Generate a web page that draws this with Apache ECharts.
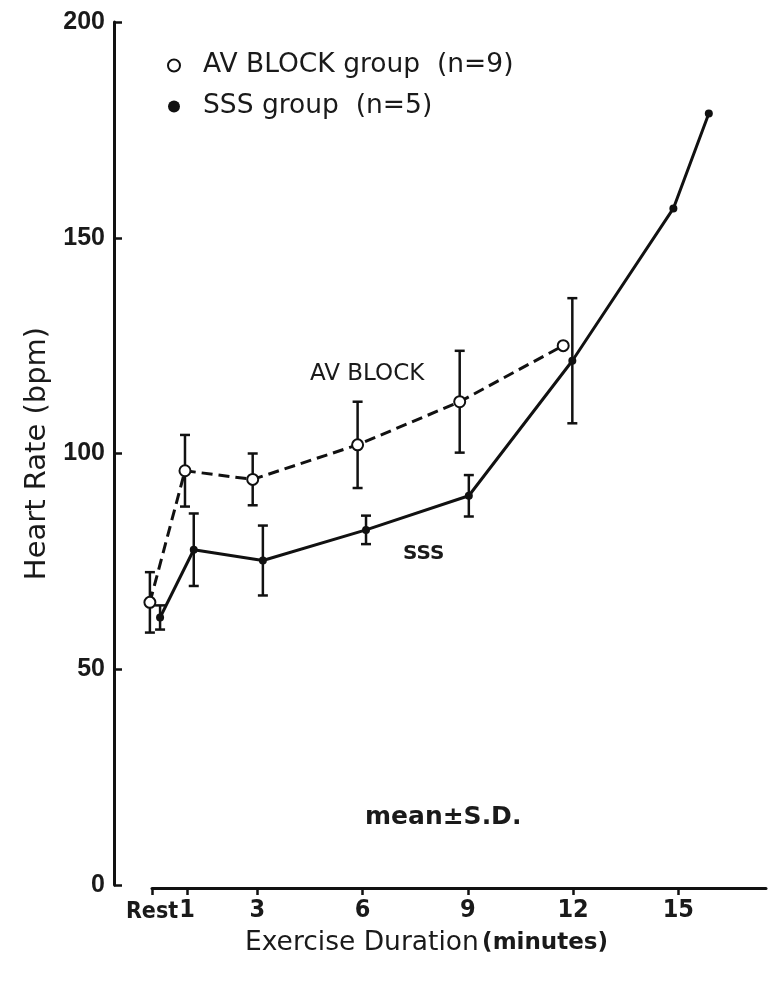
<!DOCTYPE html>
<html>
<head>
<meta charset="utf-8">
<script src="https://cdn.jsdelivr.net/npm/echarts@6/dist/echarts.min.js"></script>
<style>
  html, body { margin: 0; padding: 0; background: #fff; }
  #chart1 { width: 776px; height: 988px; }
</style>
</head>
<body>
<div id="chart1"></div>
<script>
// AV BLOCK group (open circles, dashed line)
var avMinute = [-0.06, 0.94, 2.87, 5.86, 8.77, 11.72];
var avMean = [65.5, 96, 94, 102, 112, 125];
var avSD = [7, 8.3, 6, 10, 11.8, null];

// SSS group (filled dots, solid line)
var sssMinute = [0.23, 1.19, 3.16, 6.1, 9.03, 11.98, 14.86, 15.87];
var sssMean = [62, 77.7, 75.2, 82.3, 90.2, 121.5, 156.8, 178.8];
var sssSD = [2.8, 8.4, 8.1, 3.3, 4.8, 14.5, null, null];

// x axis ticks
var xTickValues = [0, 1, 3, 6, 9, 12, 15];
var xTickLabels = ['Rest', '1', '3', '6', '9', '12', '15'];

var avName = 'AV BLOCK group  (n=9)';
var sssName = 'SSS group  (n=5)';

function pairs(xs, ys) {
    var out = [];
    for (var i = 0; i < xs.length; i++) {
        out.push([xs[i], ys[i]]);
    }
    return out;
}

function errData(xs, ys, sds) {
    var out = [];
    for (var i = 0; i < xs.length; i++) {
        if (sds[i] != null) {
            out.push([xs[i], ys[i], sds[i]]);
        }
    }
    return out;
}

// 误差线
function renderErr(params, api) {
    var x = api.value(0);
    var m = api.value(1);
    var sd = api.value(2);
    var top = api.coord([x, m + sd]);
    var bot = api.coord([x, m - sd]);
    var cap = 5;
    var st = { stroke: '#111', lineWidth: 2.5 };
    return {
        type: 'group',
        children: [
            { type: 'line', shape: { x1: top[0], y1: top[1], x2: bot[0], y2: bot[1] }, style: st },
            { type: 'line', shape: { x1: top[0] - cap, y1: top[1], x2: top[0] + cap, y2: top[1] }, style: st },
            { type: 'line', shape: { x1: bot[0] - cap, y1: bot[1], x2: bot[0] + cap, y2: bot[1] }, style: st }
        ]
    };
}

var myChart = echarts.init(document.getElementById('chart1'));

var option = {
    backgroundColor: '#fff',
    animation: false,
    grid: {
        left: 152,
        right: 10,
        top: 22,
        bottom: 103
    },
    legend: {
        orient: 'vertical',
        left: 162,
        top: 47,
        itemGap: 14,
        itemWidth: 12,
        itemHeight: 12,
        icon: 'circle',
        data: [avName, sssName],
        textStyle: {
            fontFamily: 'DejaVu Sans',
            fontSize: 26.5,
            color: '#1a1a1a',
            padding: [0, 0, 0, 18]
        }
    },
    xAxis: {
        type: 'value',
        min: 0,
        max: 17.5,
        offset: 3,
        splitLine: { show: false },
        axisLine: { show: true, onZero: false, lineStyle: { color: '#111', width: 3 } },
        axisTick: {
            show: true,
            interval: 0,
            customValues: xTickValues,
            length: 7,
            lineStyle: { color: '#111', width: 2.5 }
        },
        axisLabel: {
            customValues: xTickValues,
            interval: 0,
            showMinLabel: true,
            hideOverlap: false,
            margin: 10,
            fontFamily: "'DejaVu Sans Condensed', 'Liberation Sans'",
            fontWeight: 'bold',
            fontSize: 25,
            color: '#1a1a1a',
            rich: {
                r: {
                    fontFamily: "'DejaVu Sans Condensed', 'Liberation Sans'",
                    fontWeight: 'bold',
                    fontSize: 23,
                    padding: [3, 0, 0, 0],
                    color: '#1a1a1a'
                }
            },
            formatter: function (v) {
                var idx = xTickValues.indexOf(v);
                if (idx == 0) {
                    return '{r|' + xTickLabels[idx] + '}';
                }
                return idx >= 0 ? xTickLabels[idx] : '';
            }
        }
    },
    yAxis: {
        type: 'value',
        min: 0,
        max: 200,
        interval: 50,
        offset: 38,
        name: 'Heart Rate (bpm)',
        nameLocation: 'middle',
        nameRotate: 90,
        nameGap: 62,
        nameTextStyle: {
            fontFamily: 'DejaVu Sans',
            fontSize: 29,
            color: '#1a1a1a'
        },
        splitLine: { show: false },
        axisLine: { show: true, onZero: false, lineStyle: { color: '#111', width: 3 } },
        axisTick: { show: true, inside: true, length: 8, lineStyle: { color: '#111', width: 2.5 } },
        axisLabel: {
            margin: 9,
            showMinLabel: true,
            fontFamily: 'Liberation Sans',
            fontWeight: 'bold',
            fontSize: 25,
            color: '#1a1a1a'
        }
    },
    graphic: [
        {
            type: 'text',
            left: 245,
            top: 930,
            style: {
                text: '{a|Exercise Duration} {b|(minutes)}',
                rich: {
                    a: { fontFamily: 'DejaVu Sans', fontSize: 26.5, fill: '#1a1a1a' },
                    b: { fontFamily: 'DejaVu Sans', fontSize: 23, fontWeight: 'bold', fill: '#1a1a1a' }
                }
            }
        },
        {
            type: 'text',
            left: 310,
            top: 363,
            style: { text: 'AV BLOCK', fontFamily: 'DejaVu Sans', fontSize: 23, fill: '#1a1a1a' }
        },
        {
            type: 'text',
            left: 403,
            top: 544,
            style: { text: 'SSS', fontFamily: 'DejaVu Sans', fontSize: 20, fontWeight: 'bold', fill: '#1a1a1a' }
        },
        {
            type: 'text',
            left: 365,
            top: 805,
            style: { text: 'mean\u00b1S.D.', fontFamily: 'DejaVu Sans', fontSize: 25, fontWeight: 'bold', fill: '#1a1a1a' }
        }
    ],
    series: [
        {
            name: 'avErr',
            type: 'custom',
            renderItem: renderErr,
            data: errData(avMinute, avMean, avSD),
            clip: false,
            z: 2
        },
        {
            name: 'sssErr',
            type: 'custom',
            renderItem: renderErr,
            data: errData(sssMinute, sssMean, sssSD),
            clip: false,
            z: 2
        },
        {
            name: avName,
            type: 'line',
            data: pairs(avMinute, avMean),
            symbol: 'circle',
            symbolSize: 11,
            clip: false,
            lineStyle: { color: '#111', width: 3, type: [11, 6] },
            itemStyle: { color: '#fff', borderColor: '#111', borderWidth: 2 },
            z: 3
        },
        {
            name: sssName,
            type: 'line',
            data: pairs(sssMinute, sssMean),
            symbol: 'circle',
            symbolSize: 8,
            clip: false,
            lineStyle: { color: '#111', width: 3 },
            itemStyle: { color: '#111' },
            z: 4
        }
    ]
};

myChart.setOption(option);
</script>
</body>
</html>
